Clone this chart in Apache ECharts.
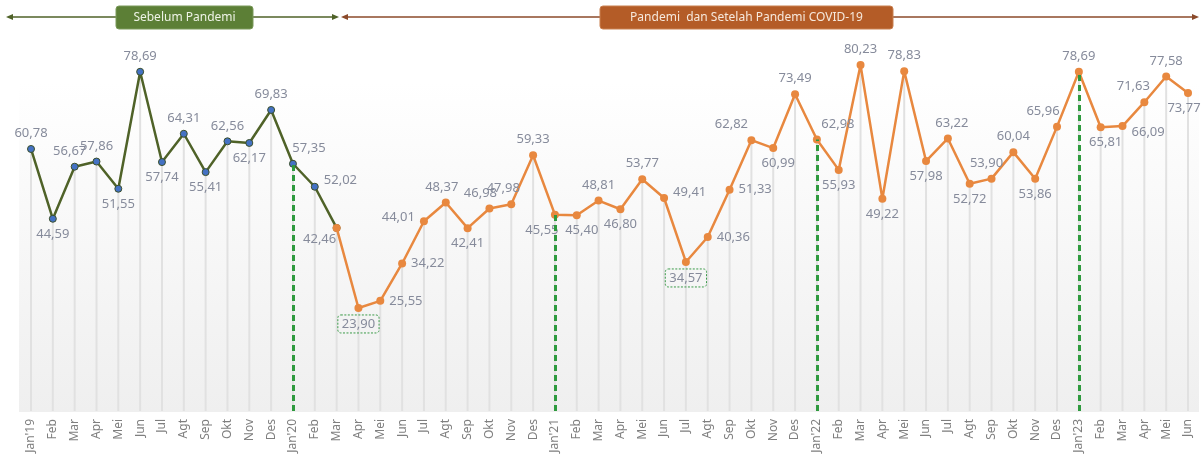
<!DOCTYPE html>
<html>
<head>
<meta charset="utf-8">
<script src="https://cdn.jsdelivr.net/npm/echarts@6/dist/echarts.min.js"></script>
<style>
  html, body { margin: 0; padding: 0; background: #fff; }
  #main { width: 1201px; height: 461px; }
</style>
</head>
<body>
<div id="main"></div>
<script>
// bulan Jan'19 - Jun'23
var months = [
  "Jan'19", 'Feb', 'Mar', 'Apr', 'Mei', 'Jun', 'Jul', 'Agt', 'Sep', 'Okt', 'Nov', 'Des',
  "Jan'20", 'Feb', 'Mar', 'Apr', 'Mei', 'Jun', 'Jul', 'Agt', 'Sep', 'Okt', 'Nov', 'Des',
  "Jan'21", 'Feb', 'Mar', 'Apr', 'Mei', 'Jun', 'Jul', 'Agt', 'Sep', 'Okt', 'Nov', 'Des',
  "Jan'22", 'Feb', 'Mar', 'Apr', 'Mei', 'Jun', 'Jul', 'Agt', 'Sep', 'Okt', 'Nov', 'Des',
  "Jan'23", 'Feb', 'Mar', 'Apr', 'Mei', 'Jun'
]
var values = [
  60.78, 44.59, 56.67, 57.86, 51.55, 78.69, 57.74, 64.31, 55.41, 62.56, 62.17, 69.83,
  57.35, 52.02, 42.46, 23.90, 25.55, 34.22, 44.01, 48.37, 42.41, 46.98, 47.98, 59.33,
  45.55, 45.40, 48.81, 46.80, 53.77, 49.41, 34.57, 40.36, 51.33, 62.82, 60.99, 73.49,
  62.98, 55.93, 80.23, 49.22, 78.83, 57.98, 63.22, 52.72, 53.90, 60.04, 53.86, 65.96,
  78.69, 65.81, 66.09, 71.63, 77.58, 73.77
]
var preEnd = 14          // Mar'20: batas sebelum pandemi
var janIdx = [12, 24, 36, 48]
var boxedIdx = [15, 30]  // titik terendah

// posisi label tiap titik
var labelPos = [
  'top', 'bottom', 'tl5', 'top', 'bottom', 'top', 'bottom', 'top', 'bottom', 'top', 'bottom', 'top',
  'tr16', 'rup', 'bl', 'bottom', 'right', 'right', 'lup', 'tl4', 'bottom', 'tl9', 'tl8', 'top',
  'bl13', 'br5', 'top', 'bottom', 'top', 'rup', 'bottom', 'right', 'right', 'tl20', 'br5', 'top',
  'tr21', 'bottom', 'top', 'bottom', 'top', 'bottom', 'tr4', 'bottom', 'tl5', 'top', 'bottom', 'tl14',
  'top', 'br5', 'rdown', 'tl11', 'top', 'bl4'
]

function fmt (v) {
  return v.toFixed(2).replace('.', ',')
}

function labelOf (code, i) {
  var lb = { show: true }
  var m = code.match(/^(tl|tr|bl|br)(\d*)$/)
  if (m) {
    var dx = Number(m[2] || 16)
    lb.position = m[1][0] === 't' ? 'top' : 'bottom'
    lb.offset = [m[1][1] === 'l' ? -dx : dx, 0]
    if (code === 'bl') lb.offset = [-17, -4]
  } else if (code === 'rup') {
    lb.position = 'right'; lb.offset = [0, -6]
  } else if (code === 'rdown') {
    lb.position = 'right'; lb.offset = [0, 6]
  } else if (code === 'lup') {
    lb.position = 'left'; lb.offset = [0, -4]
  } else {
    lb.position = code
  }
  if (boxedIdx.indexOf(i) >= 0) {
    lb.borderColor = '#3a9a48'
    lb.borderType = [2, 1.5]
    lb.borderWidth = 1
    lb.borderRadius = 3
    lb.padding = [3, 4, 2, 4]
    lb.distance = 3
  }
  return lb
}

var preData = values.map(function (v, i) {
  return i <= preEnd ? { value: v, label: i < preEnd ? labelOf(labelPos[i], i) : { show: false } } : '-'
})
var postData = values.map(function (v, i) {
  return i >= preEnd ? { value: v, label: labelOf(labelPos[i], i) } : '-'
})
var janLines = janIdx.map(function (i) {
  return [{ coord: [i, 0] }, { coord: [i, values[i]] }]
})

var myChart = echarts.init(document.getElementById('main'))
var labelStyle = {
  color: '#868b9b',
  fontSize: 13,
  fontFamily: 'Noto Sans',
  formatter: function (p) { return fmt(p.value) }
}

var option = {
  backgroundColor: '#fff',
  animation: false,
  grid: { left: 31, right: 13, top: 23, bottom: 50 },
  graphic: [
    {
      type: 'rect', z: -10, silent: true,
      shape: { x: 19, y: 23, width: 1180, height: 389 },
      style: {
        fill: new echarts.graphic.LinearGradient(0, 0, 0, 1, [
          { offset: 0, color: '#ffffff' },
          { offset: 0.15, color: '#ffffff' },
          { offset: 1, color: '#efefef' }
        ])
      }
    },
    // panah sebelum pandemi
    { type: 'line', shape: { x1: 12, y1: 17, x2: 334, y2: 17 }, style: { stroke: '#4f6228', lineWidth: 1.5 } },
    { type: 'polygon', shape: { points: [[6, 17], [13, 14], [13, 20]] }, style: { fill: '#4f6228' } },
    { type: 'polygon', shape: { points: [[339, 17], [332, 14], [332, 20]] }, style: { fill: '#4f6228' } },
    {
      type: 'rect', shape: { x: 116, y: 6, width: 137, height: 23, r: 3 },
      style: { fill: '#5c7f36', stroke: '#7a9a5a', lineWidth: 1 }
    },
    {
      type: 'text', x: 184.5, y: 17.5,
      style: { text: 'Sebelum Pandemi', fill: '#eef3e6', font: '12px "Noto Sans"', align: 'center', verticalAlign: 'middle' }
    },
    // panah pandemi
    { type: 'line', shape: { x1: 347, y1: 17, x2: 1193, y2: 17 }, style: { stroke: '#8b4a2a', lineWidth: 1.5 } },
    { type: 'polygon', shape: { points: [[341, 17], [348, 14], [348, 20]] }, style: { fill: '#8b4a2a' } },
    { type: 'polygon', shape: { points: [[1199, 17], [1192, 14], [1192, 20]] }, style: { fill: '#8b4a2a' } },
    {
      type: 'rect', shape: { x: 600, y: 6, width: 293, height: 23, r: 3 },
      style: { fill: '#b45c27', stroke: '#c98050', lineWidth: 1 }
    },
    {
      type: 'text', x: 746.5, y: 17.5,
      style: { text: 'Pandemi  dan Setelah Pandemi COVID-19', fill: '#f6e8dc', font: '12px "Noto Sans"', align: 'center', verticalAlign: 'middle' }
    }
  ],
  xAxis: {
    type: 'category',
    data: months,
    boundaryGap: false,
    axisLine: { show: false },
    axisTick: { show: false },
    splitLine: { show: false },
    axisLabel: {
      rotate: 90,
      interval: 0,
      margin: 8,
      color: '#7f7f7f',
      fontSize: 12,
      fontFamily: 'Noto Sans'
    }
  },
  yAxis: {
    type: 'value',
    min: 0,
    max: 90,
    show: false,
    splitLine: { show: false }
  },
  series: [
    {
      // garis bantu vertikal
      type: 'bar',
      data: values,
      barWidth: 2,
      clip: false,
      silent: true,
      z: 1,
      itemStyle: { color: '#e1e1e1' },
      markLine: {
        silent: true,
        symbol: 'none',
        label: { show: false },
        lineStyle: { color: '#2e9a3e', width: 3, type: [6, 4] },
        data: janLines
      }
    },
    {
      name: 'Sebelum Pandemi',
      type: 'line',
      data: preData,
      z: 3,
      symbol: 'circle',
      symbolSize: 7,
      lineStyle: { color: '#4f6228', width: 2.5 },
      itemStyle: { color: '#4472c4', borderColor: '#3b4f2a', borderWidth: 1 },
      label: labelStyle
    },
    {
      name: 'Pandemi',
      type: 'line',
      data: postData,
      z: 4,
      symbol: 'circle',
      symbolSize: 8,
      lineStyle: { color: '#e8883f', width: 2.5 },
      itemStyle: { color: '#e8883f' },
      label: labelStyle
    }
  ]
}

option && myChart.setOption(option)
</script>
</body>
</html>
